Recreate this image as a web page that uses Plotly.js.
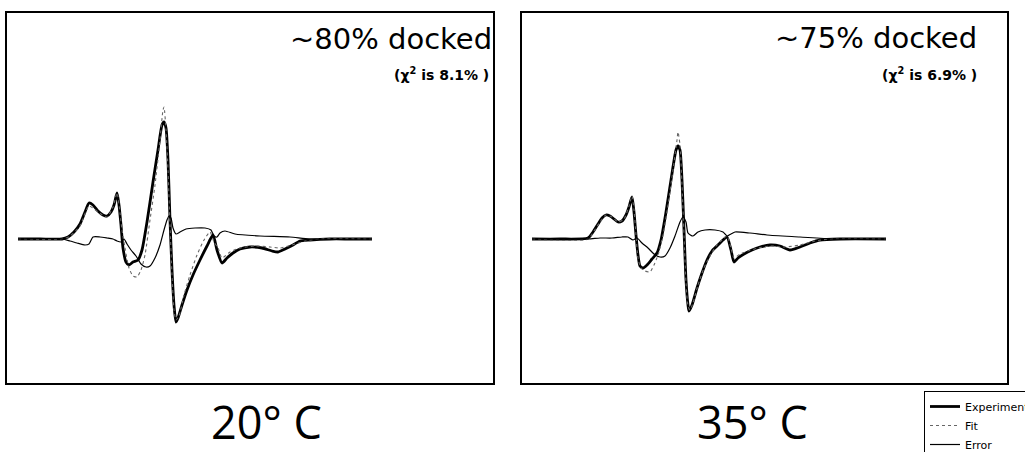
<!DOCTYPE html>
<html>
<head>
<meta charset="utf-8">
<script src="https://cdn.plot.ly/plotly-3.0.1.min.js"></script>
<style>
  html, body { margin: 0; padding: 0; background: #fff; }
  #chart { width: 1025px; height: 452px; }
</style>
</head>
<body>
<div id="chart"></div>
<script>
// ---- Data (field offset, signal; arbitrary units) ----
// Panel 1: 20° C
const field20Exp = [11,33,55,61,67,73,78,82,86,91,96,100,104,107,110,112,114,116,119,122,126,131,135,140,146,151,155,157,159,161,163,165,167,169,171,175,180,186,193,200,206,210,215,220,226,233,243,255,265,271,278,286,293,303,323,343,365];
const signal20Exp = [0,0,0,2,7,15,27,36,34,28,24,23,27,34,46,34,14,-9,-23,-26,-23,-21,-11,17,57,89,114,117,111,79,19,-31,-66,-83,-79,-66,-51,-36,-21,-7,4,-11,-24,-19,-14,-10,-8,-9,-12,-13,-10,-6,-2,-1,0,0,0];

const field20Fit = [11,55,63,73,82,91,100,106,110,113,115,118,122,126,130,134,138,143,148,153,156,157,159,161,163,165,167,169,172,177,183,190,197,203,207,211,215,223,233,248,263,273,285,298,313,365];
const signal20Fit = [0,0,3,13,33,27,22,32,46,26,9,-9,-29,-37,-38,-31,-16,19,54,99,129,132,109,69,14,-36,-71,-81,-77,-56,-36,-16,-1,7,-3,-9,-19,-13,-9,-7,-8,-9,-6,-2,0,0];

const field20Err = [11,55,63,70,78,82,86,93,100,106,110,114,117,120,124,129,134,139,143,148,153,157,160,162,164,166,169,173,179,188,198,204,207,210,213,218,228,253,283,303,365];
const signal20Err = [0,0,-2,-4,-6,-5,2,2,1,0,-2,-3,0,-5,-11,-17,-25,-28,-27,-19,-6,9,19,23,21,11,5,7,10,11,11,9,3,2,6,8,5,3,2,0,0];

// Panel 2: 35° C
const field35Exp = [10,38,66,71,76,80,84,88,92,96,100,104,107,110,112,114,116,118,121,125,130,135,139,144,149,154,156,158,160,162,164,166,167,170,175,180,185,190,196,201,205,209,212,216,222,230,238,248,258,268,278,288,298,318,364];
const signal35Exp = [0,0,1,7,15,21,24,23,20,17,18,24,32,42,27,4,-16,-27,-29,-26,-20,-14,-1,27,59,89,93,89,59,9,-41,-66,-72,-66,-49,-34,-21,-12,-6,-1,2,-11,-23,-19,-15,-11,-8,-6,-7,-11,-8,-4,-1,0,0];

const field35Fit = [10,66,72,78,84,90,96,102,107,110,112,114,116,119,123,128,132,136,141,146,151,155,156,158,160,162,164,166,168,171,176,182,188,194,200,205,209,212,218,226,236,248,263,278,293,308,364];
const signal35Fit = [0,0,8,17,24,22,17,20,33,43,29,4,-19,-29,-32,-33,-26,-16,4,34,69,99,107,94,54,4,-44,-67,-71,-64,-46,-29,-17,-7,-1,3,-9,-19,-15,-12,-9,-7,-8,-6,-2,0,0];

const field35Err = [10,66,78,90,100,106,111,115,120,126,132,138,143,148,153,158,161,164,166,171,176,183,193,201,205,209,213,228,245,278,311,364];
const signal35Err = [0,0,1,1,2,2,-1,1,-4,-9,-15,-18,-17,-9,3,17,22,17,6,3,7,9,9,7,3,5,7,6,4,2,0,0];

// Labels
const seriesNames = ["Experiment", "Fit", "Error"];
const dockedLabels = ["~80% docked", "~75% docked"];
const chiLabels = ["(χ<sup>2</sup> is 8.1% )", "(χ<sup>2</sup> is 6.9% )"];
const tempLabels = ["20° C", "35° C"];

// ---- Styles ----
const styles = [
  {color: "#000", width: 2.8, dash: "solid"},
  {color: "#666", width: 1.1, dash: "dot"},
  {color: "#000", width: 1.2, dash: "solid"}
];

function tr(x, y, i, xa, ya, show) {
  return {
    type: "scatter", mode: "lines", x: x, y: y,
    name: seriesNames[i], legendgroup: seriesNames[i], showlegend: show,
    xaxis: xa, yaxis: ya,
    line: {color: styles[i].color, width: styles[i].width, dash: styles[i].dash, shape: "spline", smoothing: 0.6},
    hoverinfo: "skip"
  };
}

const data = [
  tr(field20Exp, signal20Exp, 0, "x", "y", true),
  tr(field20Fit, signal20Fit, 1, "x", "y", true),
  tr(field20Err, signal20Err, 2, "x", "y", true),
  tr(field35Exp, signal35Exp, 0, "x2", "y2", false),
  tr(field35Fit, signal35Fit, 1, "x2", "y2", false),
  tr(field35Err, signal35Err, 2, "x2", "y2", false)
];

const axisCommon = {
  showline: true, mirror: true, linecolor: "#000", linewidth: 2,
  showgrid: false, zeroline: false, showticklabels: false, ticks: "",
  fixedrange: true
};

const annFontBig = {family: "DejaVu Sans, sans-serif", size: 29, color: "#000"};
const annFontChi = {family: "DejaVu Sans, sans-serif", size: 14, color: "#000"};
const annFontTemp = {family: "Open Sans, sans-serif", size: 45, color: "#000"};

const layout = {
  width: 1025, height: 452,
  margin: {l: 0, r: 0, t: 0, b: 0, pad: 0, autoexpand: false},
  paper_bgcolor: "#fff", plot_bgcolor: "#fff",
  showlegend: true,
  legend: {
    x: 924/1025, y: 1 - 391/452, xanchor: "left", yanchor: "top",
    bordercolor: "#000", borderwidth: 1, bgcolor: "#fff",
    font: {family: "DejaVu Sans, sans-serif", size: 11, color: "#000"},
    traceorder: "normal", tracegroupgap: 0
  },
  xaxis: Object.assign({}, axisCommon, {domain: [7/1025, 493/1025], range: [0, 486]}),
  yaxis: Object.assign({}, axisCommon, {domain: [1 - 383/452, 1 - 13/452], range: [-144, 226]}),
  xaxis2: Object.assign({}, axisCommon, {domain: [522/1025, 1007/1025], range: [0, 485], anchor: "y2"}),
  yaxis2: Object.assign({}, axisCommon, {domain: [1 - 383/452, 1 - 13/452], range: [-144, 226], anchor: "x2"}),
  annotations: [
    {xref: "paper", yref: "paper", x: 494/1025, y: 1 - 39/452, xanchor: "right", yanchor: "middle",
     text: dockedLabels[0], showarrow: false, font: annFontBig},
    {xref: "paper", yref: "paper", x: 979/1025, y: 1 - 38/452, xanchor: "right", yanchor: "middle",
     text: dockedLabels[1], showarrow: false, font: annFontBig},
    {xref: "paper", yref: "paper", x: 491/1025, y: 1 - 74/452, xanchor: "right", yanchor: "middle",
     text: "<b>" + chiLabels[0] + "</b>", showarrow: false, font: annFontChi},
    {xref: "paper", yref: "paper", x: 979/1025, y: 1 - 74/452, xanchor: "right", yanchor: "middle",
     text: "<b>" + chiLabels[1] + "</b>", showarrow: false, font: annFontChi},
    {xref: "paper", yref: "paper", x: 266/1025, y: 1 - 421.5/452, xanchor: "center", yanchor: "middle",
     text: tempLabels[0], showarrow: false, font: annFontTemp},
    {xref: "paper", yref: "paper", x: 752/1025, y: 1 - 421.5/452, xanchor: "center", yanchor: "middle",
     text: tempLabels[1], showarrow: false, font: annFontTemp}
  ]
};

Plotly.newPlot("chart", data, layout, {staticPlot: true, displayModeBar: false});
</script>
</body>
</html>
